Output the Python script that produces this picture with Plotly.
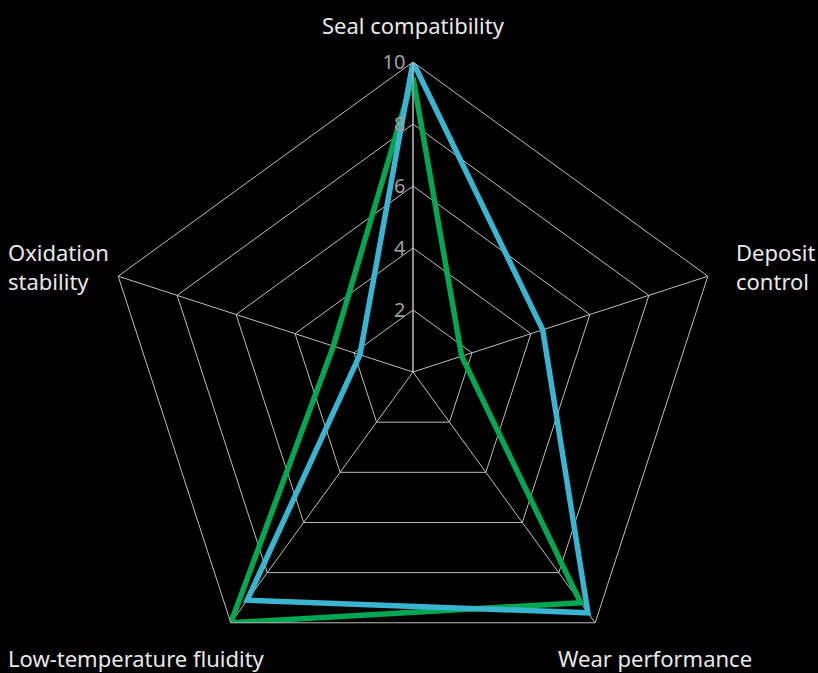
import plotly.graph_objects as go

categories = ["Seal compatibility", "Deposit control", "Wear performance",
              "Low-temperature fluidity", "Oxidation stability"]
label_text = ["Seal compatibility", "Deposit<br>control", "Wear performance",
              "Low-temperature fluidity", "Oxidation<br>stability"]
series_green = [9.5, 1.65, 9.2, 10, 2.7]
series_blue = [10, 4.4, 9.6, 9.1, 1.8]
radial_ticks = [2, 4, 6, 8, 10]

GREEN = "#00a651"
BLUE = "#3ab5d0"

W, H = 818, 690
ML, MR, MT, MB = 8, 0, 62, 8

fig = go.Figure()
for vals, col in [(series_green, GREEN), (series_blue, BLUE)]:
    fig.add_trace(go.Scatterpolar(
        r=vals + vals[:1],
        theta=categories + categories[:1],
        mode="lines",
        line=dict(color=col, width=5.5),
        showlegend=False,
        hoverinfo="skip",
    ))


def px(x, y):
    return (x - ML) / (W - ML - MR), 1 - (y - MT) / (H - MT - MB)


# label placement (pixel anchor, xanchor)
placements = [
    ((413, 25), "center"),
    ((734, 266), "left"),
    ((556, 658), "left"),
    ((6, 658), "left"),
    ((6, 266), "left"),
]
annotations = []
for txt, ((x, y), xa) in zip(label_text, placements):
    ax, ay = px(x, y)
    annotations.append(dict(
        text=txt, x=ax, y=ay, xref="paper", yref="paper",
        xanchor=xa, yanchor="middle", align="left", showarrow=False,
        font=dict(size=22, color="#e8e8e8", family="Noto Sans"),
    ))

fig.update_layout(
    width=W, height=H,
    paper_bgcolor="black", plot_bgcolor="black",
    margin=dict(l=ML, r=MR, t=MT, b=MB),
    font=dict(family="Noto Sans", color="#e8e8e8", size=22),
    annotations=annotations,
    polar=dict(
        bgcolor="black",
        gridshape="linear",
        angularaxis=dict(
            rotation=90, direction="clockwise",
            gridcolor="#bdbdbd", gridwidth=1,
            linecolor="#bdbdbd", linewidth=1,
            showline=True, ticks="", showticklabels=False,
        ),
        radialaxis=dict(
            range=[0, 10], angle=90, tickangle=90,
            side="counterclockwise",
            tickvals=radial_ticks,
            gridcolor="#bdbdbd", gridwidth=1,
            linecolor="#bdbdbd", linewidth=1,
            showline=True, ticks="",
            tickfont=dict(size=20, color="#a0a0a0"),
        ),
    ),
)

post = ("document.documentElement.style.margin='0';"
        "document.body.style.margin='0';"
        "document.body.style.background='black';"
        "document.documentElement.style.background='black';"
        "document.documentElement.style.overflow='hidden';"
        "document.body.style.overflow='hidden';")
fig.write_html("out.html", post_script=post, config={"displayModeBar": False})
